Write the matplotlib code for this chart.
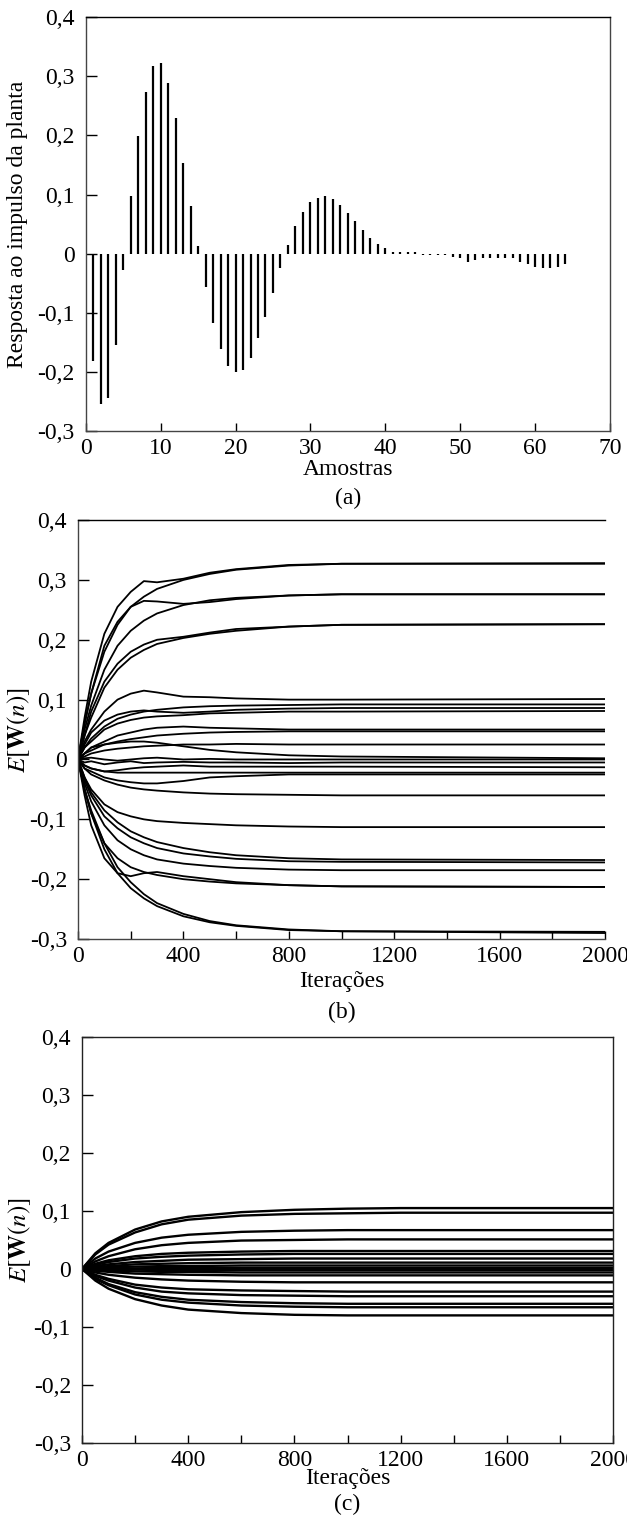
import numpy as np
import matplotlib.pyplot as plt

plt.rcParams['font.family'] = ['Liberation Serif', 'DejaVu Serif']
plt.rcParams['mathtext.fontset'] = 'stix'

# (a) resposta ao impulso da planta
amostras = list(range(1, 65))
resposta = [-0.182, -0.255, -0.245, -0.155, -0.027, 0.098, 0.199, 0.273, 0.317, 0.322,
            0.289, 0.229, 0.154, 0.081, 0.013, -0.056, -0.117, -0.162, -0.190, -0.200,
            -0.197, -0.176, -0.142, -0.107, -0.067, -0.024, 0.014, 0.046, 0.071, 0.088,
            0.095, 0.097, 0.092, 0.082, 0.068, 0.055, 0.040, 0.026, 0.017, 0.009,
            0.003, 0.002, 0.002, 0.002, -0.002, -0.002, -0.002, -0.003, -0.006, -0.008,
            -0.014, -0.011, -0.008, -0.007, -0.007, -0.007, -0.008, -0.014, -0.018, -0.022,
            -0.024, -0.024, -0.022, -0.018]

# (b) coeficientes - iteracoes de leitura
iter_b = [0, 25, 50, 100, 150, 200, 250, 300, 400, 500, 600, 800, 1000, 2000]
curvas_b = [
    [0, 0.07, 0.13, 0.21, 0.255, 0.28, 0.298, 0.296, 0.302, 0.312, 0.318, 0.325, 0.327, 0.328],
    [0, 0.06, 0.11, 0.18, 0.225, 0.255, 0.272, 0.285, 0.300, 0.310, 0.317, 0.324, 0.327, 0.327],
    [0, 0.06, 0.11, 0.19, 0.23, 0.255, 0.265, 0.264, 0.26, 0.263, 0.268, 0.274, 0.276, 0.276],
    [0, 0.05, 0.09, 0.15, 0.19, 0.215, 0.232, 0.244, 0.258, 0.266, 0.27, 0.274, 0.276, 0.276],
    [0, 0.04, 0.08, 0.13, 0.16, 0.18, 0.192, 0.2, 0.205, 0.212, 0.218, 0.222, 0.225, 0.226],
    [0, 0.04, 0.07, 0.12, 0.15, 0.17, 0.183, 0.193, 0.203, 0.21, 0.215, 0.222, 0.225, 0.226],
    [0, 0.03, 0.05, 0.08, 0.1, 0.11, 0.115, 0.112, 0.105, 0.104, 0.102, 0.100, 0.100, 0.101],
    [0, 0.02, 0.035, 0.055, 0.068, 0.075, 0.08, 0.083, 0.087, 0.089, 0.09, 0.091, 0.092, 0.092],
    [0, 0.025, 0.045, 0.065, 0.075, 0.08, 0.082, 0.08, 0.078, 0.08, 0.083, 0.085, 0.086, 0.086],
    [0, 0.02, 0.03, 0.05, 0.06, 0.066, 0.07, 0.072, 0.074, 0.077, 0.078, 0.08, 0.08, 0.081],
    [0, 0.01, 0.02, 0.03, 0.04, 0.045, 0.05, 0.053, 0.055, 0.053, 0.052, 0.05, 0.05, 0.05],
    [0, 0.01, 0.015, 0.025, 0.03, 0.034, 0.037, 0.04, 0.043, 0.045, 0.046, 0.047, 0.047, 0.047],
    [0, 0.005, 0.01, 0.015, 0.018, 0.02, 0.022, 0.023, 0.025, 0.025, 0.026, 0.025, 0.025, 0.025],
    [0, 0.01, 0.02, 0.025, 0.028, 0.03, 0.03, 0.028, 0.022, 0.016, 0.012, 0.007, 0.005, 0.002],
    [0, 0.002, 0.003, 0.0, -0.002, 0.0, 0.002, 0.003, 0.0, 0.001, 0.0, 0.0, 0.0, 0.0],
    [0, -0.005, -0.003, -0.008, -0.005, -0.003, -0.006, -0.005, -0.004, -0.005, -0.005, -0.006, -0.005, -0.005],
    [0, -0.01, -0.015, -0.02, -0.018, -0.015, -0.013, -0.012, -0.01, -0.012, -0.012, -0.012, -0.012, -0.013],
    [0, -0.01, -0.015, -0.02, -0.022, -0.022, -0.022, -0.022, -0.022, -0.022, -0.022, -0.022, -0.022, -0.022],
    [0, -0.015, -0.02, -0.03, -0.035, -0.038, -0.04, -0.04, -0.036, -0.03, -0.028, -0.025, -0.025, -0.025],
    [0, -0.015, -0.025, -0.035, -0.042, -0.047, -0.05, -0.052, -0.055, -0.057, -0.058, -0.059, -0.06, -0.06],
    [0, -0.03, -0.05, -0.075, -0.088, -0.095, -0.1, -0.103, -0.106, -0.108, -0.11, -0.112, -0.113, -0.113],
    [0, -0.03, -0.055, -0.085, -0.105, -0.12, -0.13, -0.138, -0.148, -0.155, -0.16, -0.165, -0.167, -0.168],
    [0, -0.035, -0.06, -0.095, -0.115, -0.13, -0.14, -0.148, -0.157, -0.162, -0.166, -0.17, -0.171, -0.172],
    [0, -0.04, -0.07, -0.11, -0.135, -0.15, -0.16, -0.167, -0.174, -0.178, -0.181, -0.184, -0.185, -0.185],
    [0, -0.05, -0.09, -0.14, -0.165, -0.18, -0.188, -0.193, -0.2, -0.204, -0.207, -0.21, -0.212, -0.213],
    [0, -0.06, -0.11, -0.165, -0.19, -0.195, -0.19, -0.188, -0.195, -0.2, -0.205, -0.21, -0.212, -0.213],
    [0, -0.05, -0.09, -0.15, -0.19, -0.215, -0.232, -0.245, -0.262, -0.272, -0.278, -0.285, -0.287, -0.288],
    [0, -0.05, -0.085, -0.14, -0.18, -0.205, -0.225, -0.24, -0.258, -0.27, -0.277, -0.284, -0.287, -0.29],
]

# (c) coeficientes - curvas suaves
iter_c = [0, 50, 100, 200, 300, 400, 600, 800, 1000, 1200, 2000]
curvas_c = [
    [0, 0.027, 0.045, 0.068, 0.082, 0.09, 0.098, 0.102, 0.104, 0.105, 0.105],
    [0, 0.025, 0.042, 0.063, 0.077, 0.085, 0.092, 0.095, 0.096, 0.097, 0.097],
    [0, 0.018, 0.03, 0.045, 0.054, 0.059, 0.064, 0.066, 0.067, 0.067, 0.067],
    [0, 0.013, 0.022, 0.034, 0.041, 0.045, 0.049, 0.05, 0.051, 0.051, 0.051],
    [0, 0.009, 0.015, 0.022, 0.026, 0.028, 0.03, 0.031, 0.031, 0.031, 0.031],
    [0, 0.007, 0.012, 0.018, 0.021, 0.023, 0.025, 0.026, 0.026, 0.026, 0.026],
    [0, 0.005, 0.008, 0.012, 0.014, 0.016, 0.017, 0.018, 0.018, 0.018, 0.018],
    [0, 0.003, 0.005, 0.008, 0.009, 0.01, 0.011, 0.011, 0.011, 0.011, 0.011],
    [0, 0.002, 0.003, 0.004, 0.005, 0.005, 0.006, 0.006, 0.006, 0.006, 0.006],
    [0, 0.001, 0.001, 0.001, 0.002, 0.002, 0.002, 0.002, 0.002, 0.002, 0.002],
    [0, -0.001, -0.001, -0.001, -0.002, -0.002, -0.002, -0.002, -0.002, -0.002, -0.002],
    [0, -0.002, -0.003, -0.004, -0.005, -0.005, -0.006, -0.006, -0.006, -0.006, -0.006],
    [0, -0.003, -0.005, -0.008, -0.009, -0.01, -0.011, -0.011, -0.011, -0.011, -0.011],
    [0, -0.006, -0.01, -0.015, -0.018, -0.02, -0.022, -0.023, -0.023, -0.023, -0.023],
    [0, -0.01, -0.017, -0.027, -0.032, -0.035, -0.037, -0.038, -0.039, -0.039, -0.039],
    [0, -0.012, -0.02, -0.032, -0.039, -0.042, -0.045, -0.046, -0.047, -0.047, -0.047],
    [0, -0.015, -0.026, -0.04, -0.048, -0.053, -0.057, -0.059, -0.06, -0.06, -0.06],
    [0, -0.017, -0.028, -0.044, -0.053, -0.058, -0.063, -0.065, -0.066, -0.066, -0.066],
    [0, -0.02, -0.034, -0.052, -0.063, -0.07, -0.076, -0.079, -0.08, -0.08, -0.08],
]

yticks = [-0.3, -0.2, -0.1, 0, 0.1, 0.2, 0.3, 0.4]
ytick_labels = ['-0,3', '-0,2', '-0,1', '0', '0,1', '0,2', '0,3', '0,4']
xticks_a = [0, 10, 20, 30, 40, 50, 60, 70]
xticks_it = [0, 400, 800, 1200, 1600, 2000]
xminor_it = [200, 600, 1000, 1400, 1800]

FS = 17
W, H = 627, 1518
fig = plt.figure(figsize=(W / 100, H / 100), dpi=100)


def estilo(ax, spine_color='#444444'):
    for s in ax.spines.values():
        s.set_color(spine_color)
        s.set_linewidth(1.0)
    ax.set_yticks(yticks)
    ax.set_yticklabels(ytick_labels)
    ax.set_ylim(-0.3, 0.4)
    ax.tick_params(axis='y', direction='in', length=8, width=1, pad=8, labelsize=FS)
    ax.tick_params(axis='x', direction='in', length=6, width=1, pad=5, labelsize=FS)
    ax.tick_params(which='minor', direction='in', length=6, width=1)


# (a)
ax1 = fig.add_axes([0.1367, 0.7161, 0.8363, 0.2725])
ax1.vlines(amostras, 0, resposta, color='black', lw=1.6)
ax1.set_xlim(0, 70)
ax1.set_xticks(xticks_a)
estilo(ax1)
ax1.spines['top'].set_color('black')
ax1.set_xlabel('Amostras', fontsize=FS, labelpad=0)
ax1.set_ylabel('Resposta ao impulso da planta', fontsize=FS)
ax1.yaxis.set_label_coords(-0.11, 0.5)
fig.text(0.1367 + 0.8363 / 2, 1 - 498 / H, '(a)', ha='center', va='center', fontsize=FS)

# (b)
ax2 = fig.add_axes([0.1244, 0.3814, 0.8406, 0.276])
for c in curvas_b:
    ax2.plot(iter_b, c, color='black', lw=1.3)
ax2.set_xlim(0, 2000)
ax2.set_xticks(xticks_it)
ax2.set_xticks(xminor_it, minor=True)
estilo(ax2)
ax2.spines['right'].set_visible(False)
ax2.spines['top'].set_color('black')
ax2.set_xlabel('Iterações', fontsize=FS, labelpad=3)
ax2.set_ylabel(r'$E[\mathbf{W}(n)]$', fontsize=FS + 1)
ax2.yaxis.set_label_coords(-0.088, 0.5)
fig.text(0.1244 + 0.8406 / 2, 1 - 1012 / H, '(b)', ha='center', va='center', fontsize=FS)

# (c)
ax3 = fig.add_axes([0.1308, 0.0494, 0.8469, 0.2675])
for c in curvas_c:
    ax3.plot(iter_c, c, color='black', lw=1.7)
ax3.set_xlim(0, 2000)
ax3.set_xticks(xticks_it)
ax3.set_xticks(xminor_it, minor=True)
estilo(ax3, spine_color='#222222')
ax3.set_xlabel('Iterações', fontsize=FS, labelpad=-2)
ax3.set_ylabel(r'$E[\mathbf{W}(n)]$', fontsize=FS + 1)
ax3.yaxis.set_label_coords(-0.092, 0.5)
fig.text(0.1308 + 0.8469 / 2, 1 - 1504 / H, '(c)', ha='center', va='center', fontsize=FS)

fig.savefig('out.png', dpi=100)
